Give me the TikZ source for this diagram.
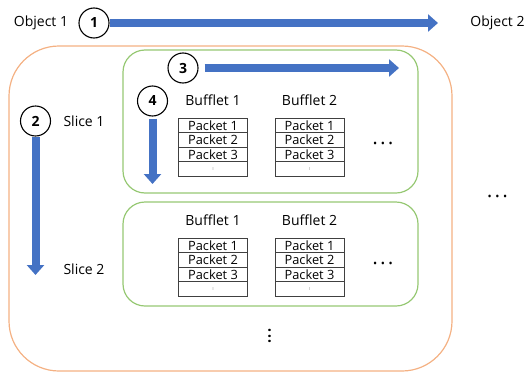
\documentclass[tikz,border=0pt]{standalone}
\usepackage{fontspec}
\setmainfont{Open Sans}
\usetikzlibrary{arrows.meta}
\definecolor{flowblue}{RGB}{68,114,196}
\definecolor{sliceorange}{RGB}{244,177,131}
\definecolor{bufgreen}{RGB}{150,200,115}

\newcommand{\hdots}{\textbullet\kern3.6pt\textbullet\kern3.6pt\textbullet}
\newcommand{\vdotsb}{\rotatebox{90}{\textbullet\kern1.7pt\textbullet\kern1.7pt\textbullet}}
\newcommand{\rowdots}{\rotatebox{90}{\fontsize{5}{5}\selectfont...}}

\begin{document}
\begin{tikzpicture}[x=1pt,y=-1pt,
  txt/.style={font=\fontsize{14}{16}\selectfont, inner sep=0pt},
  numcirc/.style={
    draw, circle, line width=1.1pt,
    minimum size=30pt, inner sep=0pt,
    font=\fontsize{14}{16}\selectfont\bfseries
  },
  objbox/.style={draw=sliceorange, line width=1.2pt, rounded corners=50pt},
  slicebox/.style={draw=bufgreen, line width=1.2pt, rounded corners=22pt},
  packet/.style={
    draw=black!75, line width=0.8pt,
    minimum width=69pt, minimum height=14.5pt,
    inner sep=0pt, outer sep=0pt,
    font=\fontsize{12.8}{13}\selectfont
  },
  bigarrow/.style={flowblue, line width=8pt, -{Triangle[width=17pt,length=10pt]}},
  dots/.style={font=\fontsize{11}{13}\selectfont, inner sep=0pt}
]
\useasboundingbox (0,0) rectangle (526,372);

% objects
\node[txt] (obj1) at (41,23) {Object 1};
\node[numcirc] (c1) at (94,23) {1};
\node[txt] (obj2) at (497.5,23) {Object 2};
\coordinate (a1end) at (438,23);
\node[dots] (moreobj) at (497.5,198) {\hdots};

% slices of one object
\node[objbox, minimum width=443pt, minimum height=325pt] (slices) at (230.5,208.5) {};
\node[slicebox, minimum width=295pt, minimum height=143pt] (slice1) at (270.5,121.5) {};
\node[slicebox, minimum width=295pt, minimum height=104pt] (slice2) at (270.5,254) {};
\node[dots] (moreslice) at (271,336) {\vdotsb};

\node[numcirc] (c2) at (35.5,121) {2};
\node[txt] (s1) at (84,121) {Slice 1};
\node[txt] (s2) at (84,269) {Slice 2};
\coordinate (a2end) at (35.5,275);

\node[numcirc] (c3) at (183,68) {3};
\coordinate (a3end) at (399,68);
\node[numcirc] (c4) at (152.5,101) {4};
\coordinate (a4end) at (152.5,184);

% bufflets with their packets
\foreach \s/\ty in {1/100, 2/220}{
  \foreach \b/\tx in {1/213, 2/309.5}{
    \node[txt] (buf\s\b) at (\tx,\ty) {Bufflet \b};
    \foreach \p in {1,2,3}
      \node[packet] (pk\s\b\p) at (\tx,{\ty+18+14.5*\p-7.25}) {Packet \p};
    \node[packet, text=black!60] (pk\s\b4)
      at (\tx,{\ty+18+14.5*4-7.25}) {\rowdots};
  }
}
\node[dots] (more1) at (383,145) {\hdots};
\node[dots] (more2) at (383,265) {\hdots};

\draw[bigarrow] (c1) -- (a1end);
\draw[bigarrow] (c2) -- (a2end);
\draw[bigarrow, shorten <=6pt] (c3) -- (a3end);
\draw[bigarrow, shorten <=2pt] (c4) -- (a4end);
\end{tikzpicture}
\end{document}
